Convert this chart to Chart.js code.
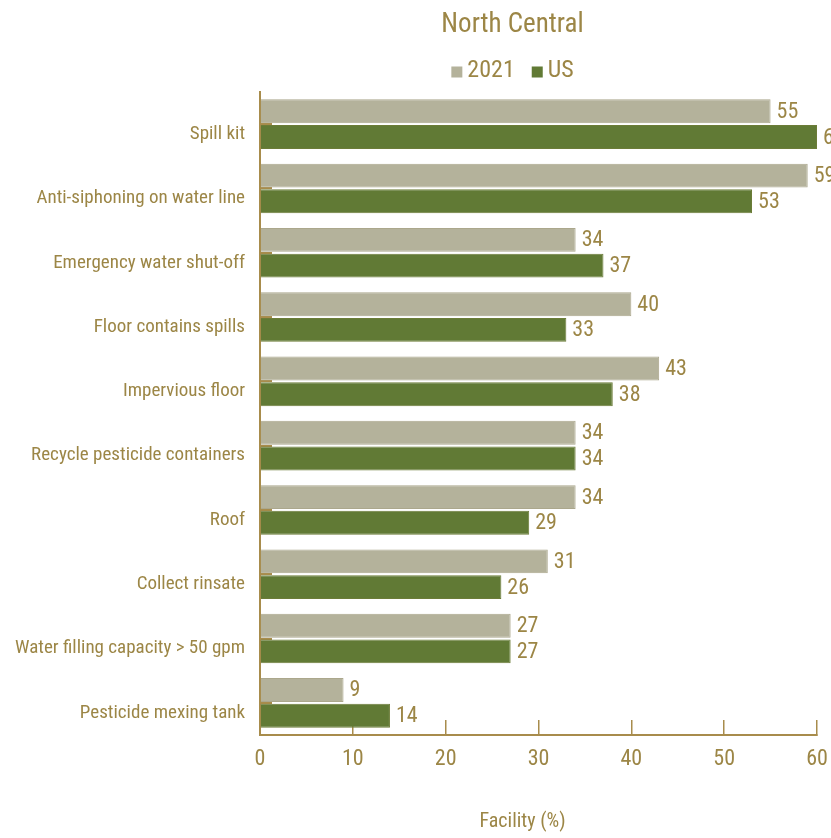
<!DOCTYPE html>
<html>
<head>
<meta charset="utf-8">
<script src="https://cdn.jsdelivr.net/npm/chart.js@4/dist/chart.umd.min.js"></script>
<style>
  html, body { margin: 0; padding: 0; background: #ffffff; }
  #wrap { width: 831px; height: 838px; position: relative; }
</style>
</head>
<body>
<div id="wrap"><canvas id="c" width="831" height="838"></canvas></div>
<script>
const categories = [
  "Spill kit",
  "Anti-siphoning on water line",
  "Emergency water shut-off",
  "Floor contains spills",
  "Impervious floor",
  "Recycle pesticide containers",
  "Roof",
  "Collect rinsate",
  "Water filling capacity > 50 gpm",
  "Pesticide mexing tank"
];
const values2021 = [55, 59, 34, 40, 43, 34, 34, 31, 27, 9];
const valuesUS   = [60, 53, 37, 33, 38, 34, 29, 26, 27, 14];
const xTicks = [0, 10, 20, 30, 40, 50, 60];
const chartTitle = "North Central";
const xAxisTitle = "Facility (%)";

const FONT = "'Roboto Condensed', 'Liberation Sans', sans-serif";
const TEXT = "#9c8646";
const AXIS = "#a88c4c";
const C2021 = "#b4b29b";
const B2021 = "#aba78c";
const CUS = "#617a35";
const BUS = "#6c7c38";

const shiftPlugin = {
  id: 'shiftTitle',
  afterLayout(chart) {
    const tb = chart.titleBlock;
    if (tb) { tb.left += 104; tb.right += 104; }
    const xs = chart.scales.x;
    if (xs && !xs._titleShifted) {
      const orig = xs.drawTitle;
      xs.drawTitle = function () {
        const l = this.left, r = this.right;
        this.left = l - 16; this.right = r - 16;
        orig.apply(this, arguments);
        this.left = l; this.right = r;
      };
      xs._titleShifted = true;
    }
  }
};

const legendPlugin = {
  id: 'customLegend',
  afterDraw(chart) {
    const ctx = chart.ctx;
    ctx.save();
    ctx.font = "24px " + FONT;
    ctx.textBaseline = "middle";
    ctx.textAlign = "left";
    const box = 11, gapText = 5, gapItem = 17;
    const items = chart.data.datasets.map(d => ({label: d.label, color: d.backgroundColor}));
    let total = 0;
    items.forEach((it, i) => {
      it.w = ctx.measureText(it.label).width;
      total += box + gapText + it.w + (i < items.length - 1 ? gapItem : 0);
    });
    let x = 512.5 - total / 2;
    const y = 71;
    items.forEach(it => {
      ctx.fillStyle = it.color;
      ctx.fillRect(x, y - box / 2 + 1, box, box);
      x += box + gapText;
      ctx.fillStyle = TEXT;
      ctx.fillText(it.label, x, y);
      x += it.w + gapItem;
    });
    ctx.restore();
  }
};

const valueLabelPlugin = {
  id: 'valueLabels',
  afterDatasetsDraw(chart) {
    const ctx = chart.ctx;
    ctx.save();
    ctx.font = "22px " + FONT;
    ctx.fillStyle = TEXT;
    ctx.textBaseline = "middle";
    ctx.textAlign = "left";
    chart.data.datasets.forEach((ds, di) => {
      const meta = chart.getDatasetMeta(di);
      meta.data.forEach((bar, i) => {
        ctx.fillText(String(ds.data[i]), bar.x + 6, bar.y + 1);
      });
    });
    ctx.restore();
  }
};

new Chart(document.getElementById('c'), {
  type: 'bar',
  data: {
    labels: categories,
    datasets: [
      { label: "2021", data: values2021, backgroundColor: C2021, borderColor: B2021, borderWidth: 1 },
      { label: "US", data: valuesUS, backgroundColor: CUS, borderColor: BUS, borderWidth: 1 }
    ]
  },
  options: {
    indexAxis: 'y',
    responsive: false,
    animation: false,
    devicePixelRatio: 1,
    categoryPercentage: 0.8,
    barPercentage: 0.93,
    layout: { padding: { left: 0, right: 14, top: 0, bottom: 0 } },
    plugins: {
      legend: { display: false },
      tooltip: { enabled: false },
      title: {
        display: true,
        text: chartTitle,
        color: TEXT,
        font: { family: FONT, size: 27, weight: 'normal' },
        padding: { top: 9, bottom: 50.6 }
      }
    },
    scales: {
      x: {
        type: 'linear',
        min: 0,
        max: 60,
        afterBuildTicks(scale) { scale.ticks = xTicks.map(v => ({ value: v })); },
        afterFit(scale) { scale.height = 103; scale.paddingLeft = 0; scale.paddingRight = 0; },
        border: { display: true, color: AXIS, width: 2 },
        grid: { drawOnChartArea: false, drawTicks: true, tickLength: -15, color: AXIS, lineWidth: 1.5 },
        ticks: { color: TEXT, font: { family: FONT, size: 22 }, padding: 26, maxRotation: 0 },
        title: {
          display: true,
          text: xAxisTitle,
          color: TEXT,
          font: { family: FONT, size: 20 },
          padding: { top: 35, bottom: 4 }
        }
      },
      y: {
        afterFit(scale) { scale.width = 260; },
        border: { display: true, color: AXIS, width: 2 },
        grid: { drawOnChartArea: false, drawTicks: true, tickLength: -12, offset: false, color: AXIS, lineWidth: 2 },
        ticks: { color: TEXT, font: { family: FONT, size: 19 }, padding: 27, autoSkip: false, labelOffset: 10 }
      }
    }
  },
  plugins: [shiftPlugin, legendPlugin, valueLabelPlugin]
});
</script>
</body>
</html>
